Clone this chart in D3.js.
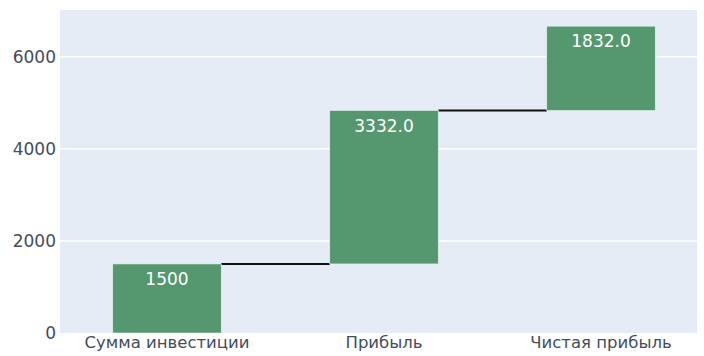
<!DOCTYPE html>
<html><head><meta charset="utf-8">
<script src="https://cdn.jsdelivr.net/npm/d3@7"></script>
<style>body{margin:0;background:#fff;} svg{display:block;font-family:"DejaVu Sans",sans-serif;}</style>
</head><body>
<svg id="chart" width="704" height="356"></svg>
<script>
const categories = ["Сумма инвестиции", "Прибыль", "Чистая прибыль"];
const deltas = [1500, 3332, 1832];
const textLabels = ["1500", "3332.0", "1832.0"];
const yTicks = [0, 2000, 4000, 6000];

const svg = d3.select("#chart");
const plot = {left: 60, right: 697, top: 10, bottom: 333};
const FONT = '"DejaVu Sans",sans-serif';

const y = d3.scaleLinear().domain([0, 7015]).range([plot.bottom, plot.top]);
const x = d3.scaleBand().domain(categories).range([58.5, 709.5]).paddingInner(0.5).paddingOuter(0.25);

let cum = 0;
const bars = categories.map((c, i) => {
  const base = cum; cum += deltas[i];
  return {cat: c, base, end: cum, label: textLabels[i]};
});

svg.append("rect").attr("x", plot.left).attr("y", plot.top)
  .attr("width", plot.right - plot.left).attr("height", plot.bottom - plot.top)
  .attr("fill", "#E5ECF6");

svg.append("g").selectAll("line").data(yTicks.filter(d => d > 0)).join("line")
  .attr("x1", plot.left).attr("x2", plot.right)
  .attr("y1", d => y(d)).attr("y2", d => y(d))
  .attr("stroke", "#fff").attr("stroke-width", 1.5);

const yAxis = svg.append("g").attr("transform", `translate(${plot.left},0)`)
  .call(d3.axisLeft(y).tickValues(yTicks).tickFormat(d3.format("d")).tickSize(0).tickPadding(4));
yAxis.select(".domain").remove();
yAxis.selectAll("text").attr("fill", "#444c5c").style("font-size", "17px").style("font-family", FONT);

const xAxis = svg.append("g").attr("transform", `translate(0,${plot.bottom})`)
  .call(d3.axisBottom(x).tickSize(0).tickPadding(3));
xAxis.select(".domain").remove();
xAxis.selectAll("text").attr("fill", "#444c5c").style("font-size", "16.5px").style("font-family", FONT);

svg.append("g").selectAll("line").data(bars.slice(0, -1)).join("line")
  .attr("x1", (d) => x(d.cat) + x.bandwidth())
  .attr("x2", (d, i) => x(bars[i + 1].cat))
  .attr("y1", d => y(d.end)).attr("y2", d => y(d.end))
  .attr("stroke", "#111").attr("stroke-width", 2);

svg.append("g").selectAll("rect").data(bars).join("rect")
  .attr("x", d => x(d.cat)).attr("width", x.bandwidth())
  .attr("y", d => y(d.end)).attr("height", d => y(d.base) - y(d.end))
  .attr("fill", "#55976f").attr("stroke", "#e3f5ea").attr("stroke-width", 0.6);

svg.append("g").selectAll("text").data(bars).join("text")
  .attr("x", d => x(d.cat) + x.bandwidth() / 2)
  .attr("y", d => y(d.end) + 21)
  .attr("text-anchor", "middle").attr("fill", "#fff")
  .style("font-size", "17px").style("font-family", FONT).text(d => d.label);
</script>
</body></html>
